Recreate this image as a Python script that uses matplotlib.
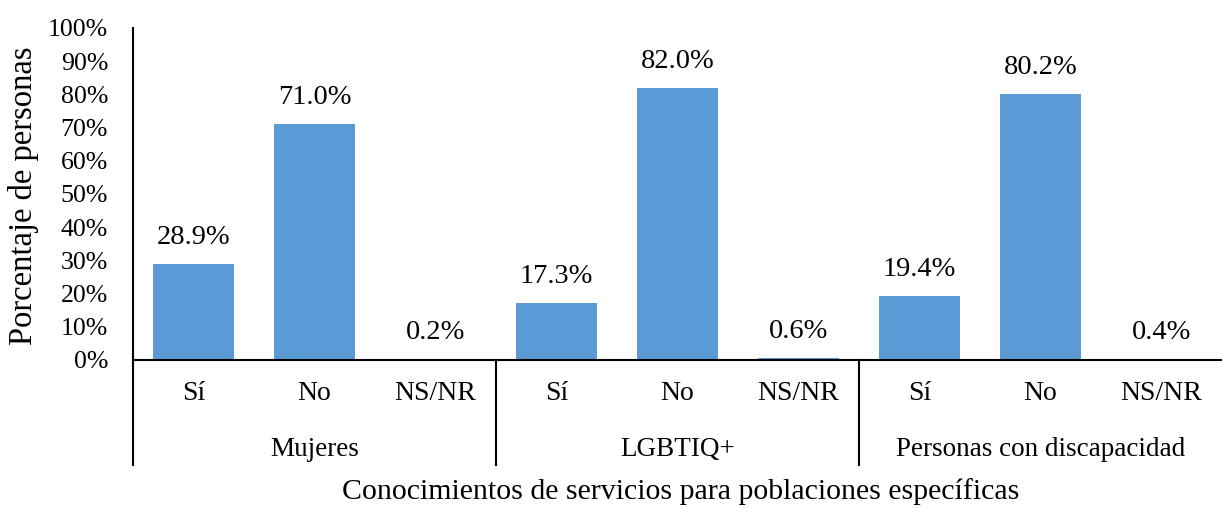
import matplotlib.pyplot as plt
from matplotlib.transforms import blended_transform_factory

# Data
groups = ["Mujeres", "LGBTIQ+", "Personas con discapacidad"]
answers = ["Sí", "No", "NS/NR"]
mujeres = [28.9, 71.0, 0.2]
lgbtiq = [17.3, 82.0, 0.6]
discapacidad = [19.4, 80.2, 0.4]
y_ticks = list(range(0, 101, 10))

plt.rcParams['font.family'] = ['Liberation Serif', 'DejaVu Serif']

values = mujeres + lgbtiq + discapacidad
x = list(range(len(values)))

fig = plt.figure(figsize=(12.22, 5.08), dpi=100)
W, H = 1222, 508
ax = fig.add_axes([133 / W, 1 - 360 / H, (W - 133) / W, (360 - 28) / H])

ax.bar(x, values, width=0.67, color='#5B9BD5')

# Value labels above bars
for xi, v in zip(x, values):
    ax.annotate(f"{v:.1f}%", (xi, v), xytext=(0, 10), textcoords='offset points',
                ha='center', va='bottom', fontsize=20.5)

ax.set_xlim(-0.5, len(values) - 0.5)
ax.set_ylim(0, 100)
ax.set_yticks(y_ticks)
ax.set_yticklabels([f"{t}%" for t in y_ticks], fontsize=18.6)
ax.tick_params(axis='y', length=0, pad=18)
ax.set_xticks([])

for s in ['top', 'right']:
    ax.spines[s].set_visible(False)
ax.spines['left'].set_linewidth(1.5)
ax.spines['bottom'].set_linewidth(1.5)

# Y axis title
fig.text(24 / W, 1 - 196 / H, "Porcentaje de personas", rotation=90,
         ha='center', va='center', fontsize=23.5)

# Multi-level category axis
trans = blended_transform_factory(ax.transData, ax.transAxes)
px = 1 / (360 - 28)  # one pixel in axes-fraction units
for xi in x:
    ax.text(xi, -34 * px, answers[xi % 3], transform=trans, ha='center', va='center',
            fontsize=20)
for gi, g in enumerate(groups):
    ax.text(gi * 3 + 1, -90 * px, g, transform=trans, ha='center', va='center',
            fontsize=19.5)
for gi in range(len(groups)):
    ax.plot([gi * 3 - 0.5, gi * 3 - 0.5], [0, -105 * px], transform=trans,
            color='black', lw=1.5, clip_on=False)

ax.text(0.5 * (len(values) - 1) + 0.03, -132 * px, "Conocimientos de servicios para poblaciones específicas",
        transform=trans, ha='center', va='center', fontsize=21.5)

fig.savefig('out.png', dpi=100)
